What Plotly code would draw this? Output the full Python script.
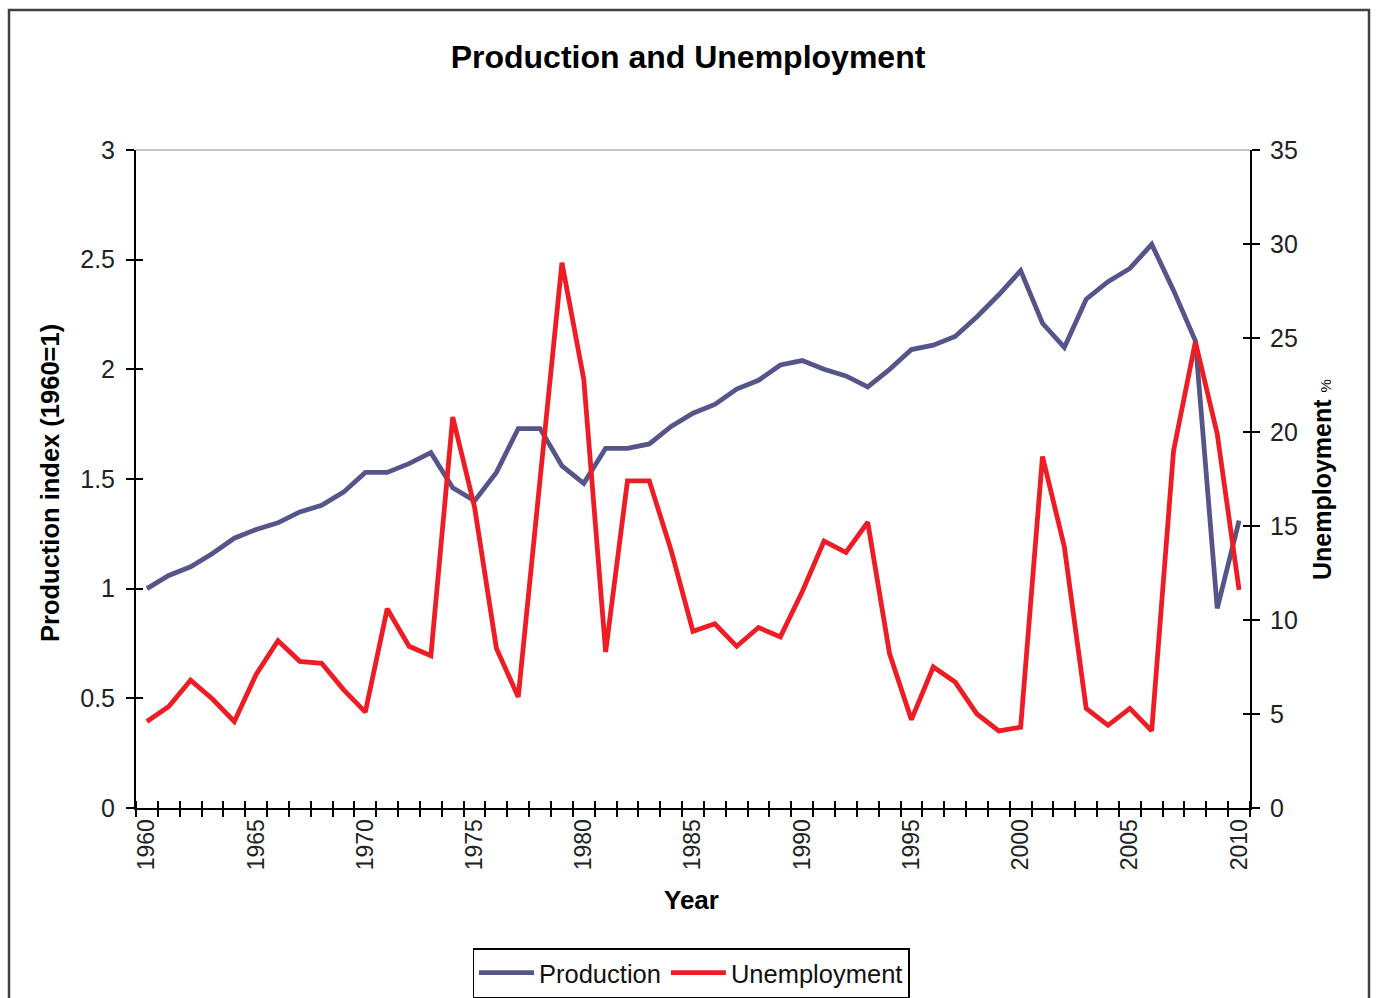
import plotly.graph_objects as go

years = list(range(1960, 2011))
production = [1.00, 1.06, 1.10, 1.16, 1.23, 1.27, 1.30, 1.35, 1.38, 1.44,
              1.53, 1.53, 1.57, 1.62, 1.46, 1.40, 1.53, 1.73, 1.73, 1.56,
              1.48, 1.64, 1.64, 1.66, 1.74, 1.80, 1.84, 1.91, 1.95, 2.02,
              2.04, 2.00, 1.97, 1.92, 2.00, 2.09, 2.11, 2.15, 2.24, 2.34,
              2.45, 2.21, 2.10, 2.32, 2.40, 2.46, 2.57, 2.36, 2.13, 0.91,
              1.31]
unemployment = [4.6, 5.4, 6.8, 5.8, 4.6, 7.1, 8.9, 7.8, 7.7, 6.3,
                5.1, 10.6, 8.6, 8.1, 20.8, 16.0, 8.5, 5.9, 17.5, 29.0,
                22.8, 8.3, 17.4, 17.4, 13.7, 9.4, 9.8, 8.6, 9.6, 9.1,
                11.5, 14.2, 13.6, 15.2, 8.2, 4.7, 7.5, 6.7, 5.0, 4.1,
                4.3, 18.7, 13.9, 5.3, 4.4, 5.3, 4.1, 19.0, 24.8, 19.9,
                11.6]
label_years = list(range(1960, 2011, 5))
left_ticks = [0, 0.5, 1, 1.5, 2, 2.5, 3]
left_labels = ["0", "0.5", "1", "1.5", "2", "2.5", "3"]
right_ticks = [0, 5, 10, 15, 20, 25, 30, 35]

FONT = "Liberation Sans, Arial, sans-serif"
BLUE = "#55558A"
RED = "#EE1C25"

fig = go.Figure()
fig.add_trace(go.Scatter(x=years, y=production, name="Production", mode="lines",
                         line=dict(color=BLUE, width=4.8), yaxis="y"))
fig.add_trace(go.Scatter(x=years, y=unemployment, name="Unemployment", mode="lines",
                         line=dict(color=RED, width=4.8), yaxis="y2"))
# invisible helper traces so that the inner tick axes are drawn
fig.add_trace(go.Scatter(x=[], y=[], xaxis="x2", yaxis="y3", showlegend=False, hoverinfo="skip"))
fig.add_trace(go.Scatter(x=[], y=[], xaxis="x2", yaxis="y4", showlegend=False, hoverinfo="skip"))

xr = [1959.5, 2010.5]
fig.update_layout(
    width=1376, height=998,
    margin=dict(l=136, r=126, t=150, b=190, autoexpand=False),
    paper_bgcolor="white", plot_bgcolor="white",
    font=dict(family=FONT, color="#111"),
    title=dict(text="<b>Production and Unemployment</b>", x=688/1376, xanchor="center",
               y=1 - 57/998, yanchor="middle", font=dict(size=32, color="black")),
    xaxis=dict(range=xr, tickvals=label_years, ticktext=[str(y) for y in label_years],
               tickangle=-90, ticks="", showgrid=False, zeroline=False,
               showline=True, linecolor="black", linewidth=2,
               tickfont=dict(size=23, color="#222"),
               minor=dict(ticks="outside", tick0=1959.5, dtick=1, ticklen=7,
                          tickcolor="black", tickwidth=1.5, showgrid=False)),
    xaxis2=dict(range=xr, overlaying="x", side="bottom", showticklabels=False,
                showgrid=False, zeroline=False, showline=False, ticks="",
                minor=dict(ticks="inside", tick0=1959.5, dtick=1, ticklen=7,
                           tickcolor="black", tickwidth=1.5, showgrid=False)),
    yaxis=dict(range=[0, 3], tickvals=left_ticks, ticktext=left_labels,
               ticks="outside", ticklen=8, tickwidth=1.5, tickcolor="black",
               showgrid=False, zeroline=False, showline=True, linecolor="black", linewidth=2,
               tickfont=dict(size=25, color="#222"), ticklabelstandoff=6),
    yaxis2=dict(range=[0, 35], tickvals=right_ticks, overlaying="y", side="right",
                ticks="outside", ticklen=8, tickwidth=1.5, tickcolor="black",
                showgrid=False, zeroline=False, showline=True, linecolor="black", linewidth=2,
                tickfont=dict(size=25, color="#222"), ticklabelstandoff=5),
    yaxis3=dict(range=[0, 3], tickvals=left_ticks, overlaying="y", side="left", anchor="x2",
                ticks="inside", ticklen=7, tickwidth=1.5, tickcolor="black",
                showticklabels=False, showgrid=False, zeroline=False, showline=False),
    yaxis4=dict(range=[0, 35], tickvals=right_ticks, overlaying="y", side="right", anchor="x2",
                ticks="inside", ticklen=7, tickwidth=1.5, tickcolor="black",
                showticklabels=False, showgrid=False, zeroline=False, showline=False),
    legend=dict(orientation="h", x=(691-136)/1114, xanchor="center",
                y=(808-948)/658, yanchor="top", bordercolor="black", borderwidth=1.5,
                font=dict(size=25.5, color="#111"), bgcolor="white", itemwidth=55,
                tracegroupgap=0),
    showlegend=True,
)

fig.add_annotation(text="<b>Production index (1960=1)</b>", xref="paper", yref="paper",
                   x=(50-136)/1114, y=(808-483)/658, textangle=-90, showarrow=False,
                   xanchor="center", yanchor="middle", font=dict(size=25.5, color="black"))
fig.add_annotation(text="<b>Unemployment</b> <span style='font-size:15px'>%</span>",
                   xref="paper", yref="paper",
                   x=(1322-136)/1114, y=(808-480)/658, textangle=-90, showarrow=False,
                   xanchor="center", yanchor="middle", font=dict(size=25, color="black"))
fig.add_annotation(text="<b>Year</b>", xref="paper", yref="paper",
                   x=(691-136)/1114, y=(808-900)/658, showarrow=False,
                   xanchor="center", yanchor="middle", font=dict(size=26, color="black"))

# top border of plot area (light gray) and outer chart frame
fig.add_shape(type="line", xref="paper", yref="paper", x0=0, x1=1, y0=1, y1=1,
              line=dict(color="#B0B0B0", width=1.5))
fig.add_shape(type="rect", xref="paper", yref="paper",
              x0=(9-136)/1114, x1=(1369-136)/1114, y0=(808-1020)/658, y1=(808-10)/658,
              line=dict(color="#404040", width=2.5), layer="below")

fig.write_html("out.html")
